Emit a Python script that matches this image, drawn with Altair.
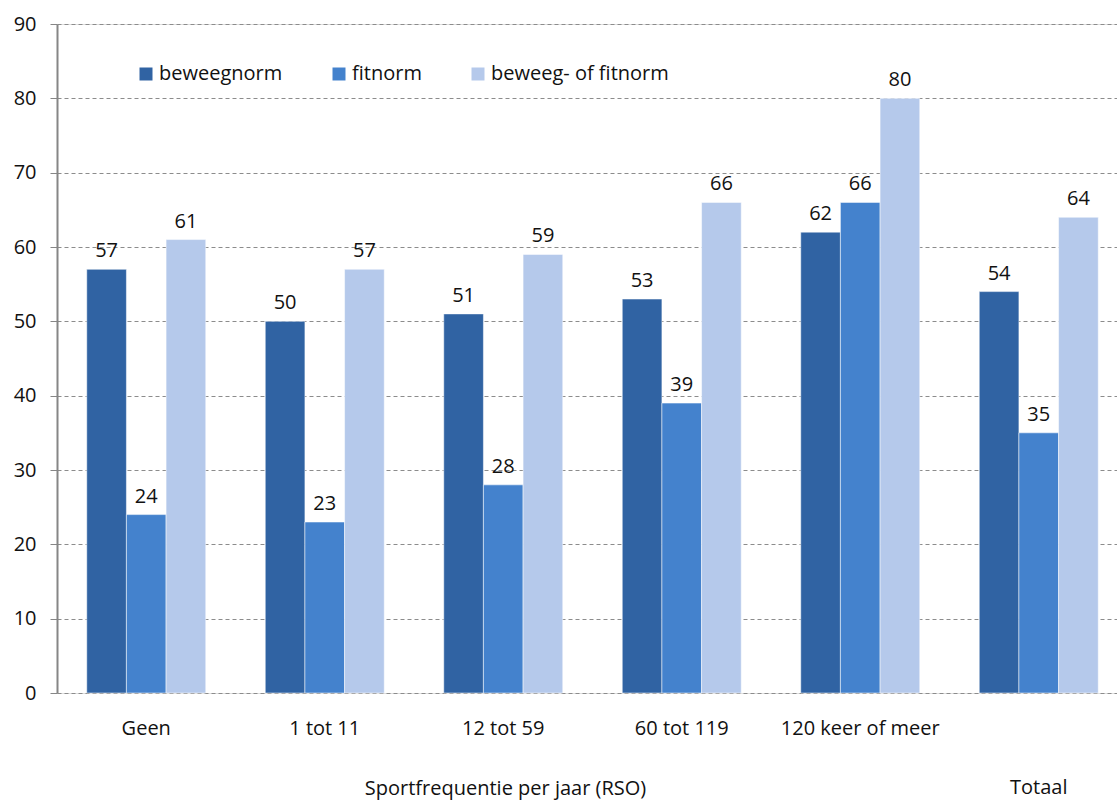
import altair as alt
import pandas as pd

# Share of respondents meeting the activity norms, by yearly sport frequency
categories = ["Geen", "1 tot 11", "12 tot 59", "60 tot 119", "120 keer of meer", "Totaal"]
series = ["beweegnorm", "fitnorm", "beweeg- of fitnorm"]
beweegnorm = [57, 50, 51, 53, 62, 54]
fitnorm = [24, 23, 28, 39, 66, 35]
beweeg_of_fitnorm = [61, 57, 59, 66, 80, 64]
colors = ["#3063A3", "#4482CD", "#B5C9EB"]

rows = []
for name, values in zip(series, [beweegnorm, fitnorm, beweeg_of_fitnorm]):
    for cat, val in zip(categories, values):
        rows.append({"groep": cat, "norm": name, "pct": val})
df = pd.DataFrame(rows)

FONT = "Open Sans"
FS = 20
W, H = 1060, 669
BOTTOM_TEXT_Y = 101  # baseline of the bottom captions, below the plot area

x_scale = alt.Scale(domain=categories, range=[0, 1071],
                    paddingInner=1 / 3, paddingOuter=1 / 6)
y_scale = alt.Scale(domain=[0, 90], nice=False, zero=True)
c_scale = alt.Scale(domain=series, range=colors)
off_scale = alt.Scale(domain=series, paddingInner=0, paddingOuter=0)

x_enc = alt.X(
    "groep:N", scale=x_scale, sort=categories,
    axis=alt.Axis(
        title="Sportfrequentie per jaar (RSO)",
        labelExpr="datum.value == 'Totaal' ? '' : datum.value",
        labelAngle=0, domain=False, ticks=False, labelPadding=25,
        labelFont=FONT, labelFontSize=FS, labelColor="#111111",
        titleFont=FONT, titleFontSize=FS, titleFontWeight="normal",
        titleColor="#111111", titleX=448, titleY=BOTTOM_TEXT_Y,
        titleAlign="center", titleBaseline="alphabetic", titleAnchor="start",
    ),
)

y_enc = alt.Y(
    "pct:Q", scale=y_scale,
    axis=alt.Axis(
        title=None, values=list(range(0, 91, 10)), tickCount=10,
        grid=True, gridDash=[4, 3], gridColor="#8C8C8C", gridWidth=1,
        domain=True, domainColor="#868686", domainWidth=2,
        ticks=True, tickSize=7, tickColor="#868686",
        labelPadding=14, labelFont=FONT, labelFontSize=FS,
        labelColor="#111111",
    ),
)

bars = alt.Chart(df).mark_bar(
    stroke="#ffffff", strokeWidth=1, strokeOpacity=0.5
).encode(
    x=x_enc,
    xOffset=alt.XOffset("norm:N", scale=off_scale, sort=series),
    y=y_enc,
    color=alt.Color(
        "norm:N", scale=c_scale, sort=series,
        legend=alt.Legend(
            title=None, orient="none", direction="horizontal",
            legendX=79, legendY=40, symbolType="square", symbolSize=169,
            symbolStrokeWidth=0, labelFont=FONT, labelFontSize=FS,
            labelColor="#111111", labelOffset=3, columnPadding=46,
            labelLimit=400, padding=0,
        ),
    ),
)

labels = alt.Chart(df).mark_text(
    font=FONT, fontSize=FS, color="#111111", baseline="alphabetic", dy=-12
).encode(
    x=alt.X("groep:N", scale=x_scale, sort=categories),
    xOffset=alt.XOffset("norm:N", scale=off_scale, sort=series),
    y=alt.Y("pct:Q", scale=y_scale),
    text="pct:Q",
)

totaal = alt.Chart(pd.DataFrame({"groep": ["Totaal"]})).mark_text(
    font=FONT, fontSize=FS, color="#111111", baseline="alphabetic"
).encode(
    x=alt.X("groep:N", scale=x_scale, sort=categories),
    y=alt.value(H + BOTTOM_TEXT_Y),
    text="groep:N",
)

chart = alt.layer(bars, labels, totaal).properties(
    width=W, height=H,
    autosize=alt.AutoSizeParams(type="none"),
    padding={"left": 57, "top": 24, "right": 0, "bottom": 801 - 24 - H},
).configure_view(stroke=None).configure(background="white")

chart.save("out.html", embed_options={"renderer": "svg", "actions": False})
